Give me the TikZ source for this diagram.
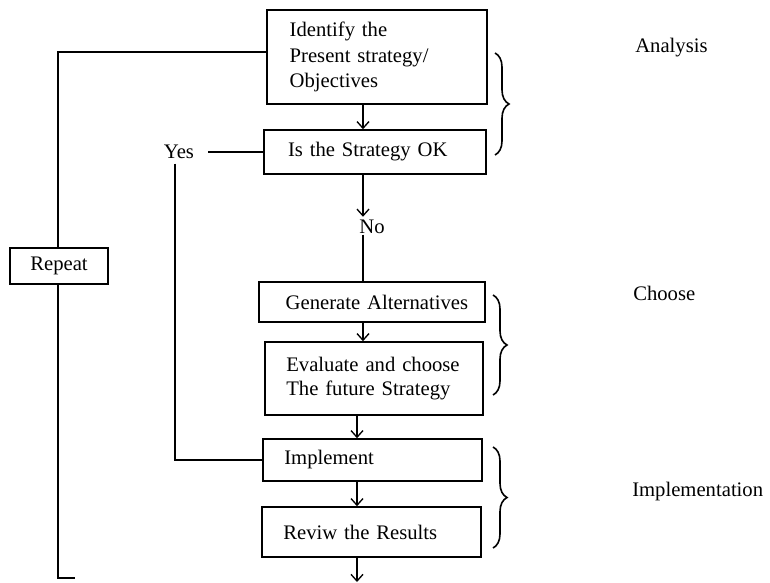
\documentclass[tikz,border=0pt]{standalone}
\usepackage{fontspec}
\setmainfont{Liberation Serif}
\usetikzlibrary{arrows.meta,decorations.pathreplacing}
% left indent for the text lines inside the boxes
\newcommand{\boxind}[1][17pt]{\hspace*{#1}}
\begin{document}
\begin{tikzpicture}[x=0.75pt,y=-0.75pt,
  every node/.style={font=\fontsize{15.5}{18}\selectfont},
  box/.style={draw,line width=1.2pt,rectangle,inner xsep=0pt,inner ysep=0pt,align=left},
  conn/.style={line width=1pt},
  arr/.style={conn,-{Straight Barb[length=5pt,width=9pt,line width=1pt]}},
  brc/.style={line width=1.2pt,decorate,decoration={brace,amplitude=10.5pt}},
  side/.style={anchor=west,inner sep=0pt}]
\useasboundingbox (0,0) rectangle (770,582);

% process boxes
\node[box,text width=165pt,minimum height=70.5pt,
      font=\fontsize{15.5}{19}\selectfont] (b1) at (377,57)
  {\boxind Identify the\\\boxind Present strategy/\\\boxind Objectives};
\node[box,text width=166.5pt,minimum height=33pt] (b2) at (375,152)
  {\boxind[18pt]Is the Strategy OK};
\node[box,text width=169.5pt,minimum height=30pt] (b3) at (372,302)
  {\boxind[20pt]Generate Alternatives};
\node[box,text width=163.5pt,minimum height=54.75pt,
      font=\fontsize{15.5}{17.5}\selectfont] (b4) at (374,378.5)
  {\boxind[16pt]Evaluate and choose\\\boxind[16pt]The future Strategy};
\node[box,text width=164.25pt,minimum height=31.5pt] (b5) at (372.5,460)
  {\boxind[16pt]Implement};
\node[box,text width=164.25pt,minimum height=37.5pt] (b6) at (371.5,532)
  {\boxind[16pt]Reviw the Results};
\node[box,align=center,minimum width=73.5pt,minimum height=27pt] (rep) at (59,266)
  {Repeat};

% decision labels
\node (yes) at (179,152) {Yes};
\node (no) at (372,227) {No};

% phase labels
\node[side] (an) at (635,48) {Analysis};
\node[side] (ch) at (633,293) {Choose};
\node[side] (im) at (632,492) {Implementation};

% helper coordinates for the connector columns
\coordinate (colA) at (363,0);
\coordinate (colB) at (357,0);
\coordinate (yesx) at (175,0);
\coordinate (ltop) at (58,52);
\coordinate (lbot) at (58,578);
\coordinate (ltick) at (75,578);
\coordinate (out) at (357,582);

% main flow
\draw[arr] (colA |- b1.south) -- (colA |- b2.north);
\draw[arr] (colA |- b2.south) -- ([yshift=-1pt]colA |- no.north);
\draw[conn] ([yshift=3pt]colA |- no.south) -- (colA |- b3.north);
\draw[arr] (colA |- b3.south) -- (colA |- b4.north);
\draw[arr] (colB |- b4.south) -- (colB |- b5.north);
\draw[arr] (colB |- b5.south) -- (colB |- b6.north);
\draw[arr] (colB |- b6.south) -- (out);

% "Yes" branch to implementation
\draw[conn] ([xshift=7pt]yes.east) -- (b2.west);
\draw[conn] (yesx |- yes.south) |- (b5.west);

% repeat loop
\draw[conn] (ltop -| b1.west) -- (ltop) -- (ltop |- rep.north);
\draw[conn] (ltop |- rep.south) -- (lbot) -- (ltick);

% phase braces
\draw[brc] (495,53) -- (495,155);
\draw[brc] (493,295) -- (493,395);
\draw[brc] (493,447) -- (493,548);
\end{tikzpicture}
\end{document}
